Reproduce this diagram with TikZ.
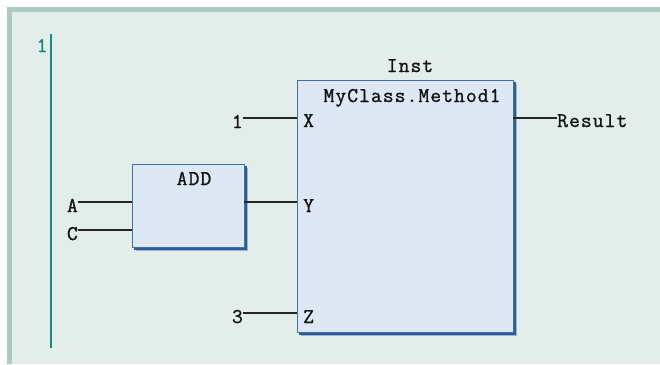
\documentclass[tikz,border=0pt]{standalone}
\usepackage{fontspec}
\setmonofont[LetterSpace=5,FakeBold=1.2]{Latin Modern Mono}
\begin{document}
\begin{tikzpicture}[x=1pt,y=-1pt,
  plc/.style={font=\fontsize{21}{21}\selectfont\ttfamily, text=black!92, inner sep=0pt},
  fbox/.style={draw=blockline, fill=blockfill, line width=1.2pt, inner sep=0pt, anchor=north west},
  wire/.style={draw=black!85, line width=1.3pt}
]
\definecolor{frame}{HTML}{AACBC0}
\definecolor{bg}{HTML}{E3EDE9}
\definecolor{rail}{HTML}{168A7C}
\definecolor{blockfill}{HTML}{DEE8F5}
\definecolor{blockline}{HTML}{3F72AC}
\definecolor{shadow}{HTML}{2B5C95}
\definecolor{halo}{HTML}{9DB5D0}
\useasboundingbox (0,0) rectangle (660,364);
\fill[white] (0,0) rectangle (660,364);
\fill[frame] (7,7) rectangle (660,364);
\fill[bg] (12,12) rectangle (660,364);
% power rail
\coordinate (railtop) at (51,34);
\coordinate (railbot) at (51,348);
\draw[rail, line width=2.6pt] (railtop) -- (railbot);
\node[plc, text=rail, anchor=base] (rung) at (42,52) {1};
% shadows
\fill[halo] (136,168) rectangle (248,251);
\fill[shadow] (134,166) rectangle (246.5,249.5);
\fill[halo] (301,84) rectangle (517,336);
\fill[shadow] (299,82) rectangle (515.5,334.5);
% blocks
\node[fbox, minimum width=112pt, minimum height=83pt] (add) at (132,164) {};
\node[fbox, minimum width=216pt, minimum height=252pt] (inst) at (297,80) {};
% titles
\node[plc, anchor=base] (addt) at (194,185) {ADD};
\node[plc, anchor=base] (instname) at (410,72) {Inst};
\node[plc, anchor=base] (meth) at (412,102) {MyClass.Method1};
% pins
\node[plc, anchor=base west] (px) at (303,127) {X};
\node[plc, anchor=base west] (py) at (303,212) {Y};
\node[plc, anchor=base west] (pz) at (303,323) {Z};
% pin points
\coordinate (cx) at (297,118);
\coordinate (cy) at (297,202);
\coordinate (cz) at (297,313);
\coordinate (ca) at (132,202);
\coordinate (cc) at (132,230);
\coordinate (cout) at (244,202);
\coordinate (cres) at (513,118);
% inputs
\node[plc, anchor=base east] (in1) at (243,128) {1};
\node[plc, anchor=base east] (in3) at (243,323) {3};
\node[plc, anchor=base east] (ina) at (78,212) {A};
\node[plc, anchor=base east] (inc) at (78,240) {C};
\node[plc, anchor=base west] (res) at (557,127) {Result};
% wires
\draw[wire] (in1.east |- cx) -- (cx);
\draw[wire] (in3.east |- cz) -- (cz);
\draw[wire] (ina.east |- ca) -- (ca);
\draw[wire] (inc.east |- cc) -- (cc);
\draw[wire] (cout) -- (cy);
\draw[wire] (cres) -- (res.west |- cres);
\end{tikzpicture}
\end{document}
